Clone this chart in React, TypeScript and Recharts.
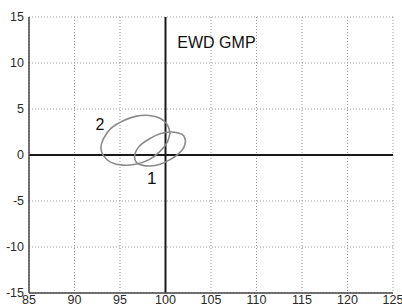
import {
  CartesianGrid,
  ReferenceDot,
  ReferenceLine,
  Scatter,
  ScatterChart,
  XAxis,
  YAxis,
} from "recharts"

// axis ticks
const xTicks = [85, 90, 95, 100, 105, 110, 115, 120, 125]
const yTicks = [-15, -10, -5, 0, 5, 10, 15]

// ellipse 2 (bigger, left)
const ellipse2 = [
  { x: 100.5, y: 2.4 },
  { x: 100.2, y: 3.3 },
  { x: 99.4, y: 4.0 },
  { x: 98.2, y: 4.3 },
  { x: 96.7, y: 4.2 },
  { x: 95.3, y: 3.7 },
  { x: 94.0, y: 2.9 },
  { x: 93.2, y: 1.8 },
  { x: 92.9, y: 0.8 },
  { x: 93.2, y: -0.1 },
  { x: 94.0, y: -0.8 },
  { x: 95.3, y: -1.1 },
  { x: 96.7, y: -1.0 },
  { x: 98.2, y: -0.5 },
  { x: 99.4, y: 0.4 },
  { x: 100.2, y: 1.4 },
  { x: 100.5, y: 2.4 },
]

// ellipse 1 (smaller, around the origin cross)
const ellipse1 = [
  { x: 102.2, y: 1.5 },
  { x: 102.0, y: 2.1 },
  { x: 101.4, y: 2.4 },
  { x: 100.5, y: 2.5 },
  { x: 99.4, y: 2.3 },
  { x: 98.3, y: 1.8 },
  { x: 97.4, y: 1.2 },
  { x: 96.8, y: 0.5 },
  { x: 96.6, y: -0.2 },
  { x: 96.8, y: -0.8 },
  { x: 97.4, y: -1.1 },
  { x: 98.3, y: -1.2 },
  { x: 99.4, y: -1.0 },
  { x: 100.5, y: -0.5 },
  { x: 101.4, y: 0.1 },
  { x: 102.0, y: 0.8 },
  { x: 102.2, y: 1.5 },
]

// text labels placed in data units
const titlePos = { x: 105.6, y: 12.3 }
const label2Pos = { x: 92.8, y: 3.3 }
const label1Pos = { x: 98.5, y: -2.5 }

const font = "Liberation Sans, Arial, sans-serif"
const narrow = "Liberation Sans Narrow, Arial Narrow, Liberation Sans, sans-serif"
const tickStyle = { fontSize: 12.5, fill: "#2a2a2a", fontFamily: narrow }

const noDot = () => <g />

const textLabel = (value: string, size: number) => ({
  value,
  position: "center" as const,
  fill: "#111",
  fontSize: size,
  fontFamily: font,
})

export default function App() {
  return (
    <div style={{ position: "absolute", left: 0, top: 0, background: "#fff" }}>
      <ScatterChart width={402} height={306} margin={{ top: 17, right: 9, bottom: 0, left: 0 }}>
        <CartesianGrid stroke="#999" strokeDasharray="1 2" />
        <XAxis
          type="number"
          dataKey="x"
          domain={[85, 125]}
          ticks={xTicks}
          interval={0}
          height={13}
          tickLine={false}
          tickSize={0}
          tickMargin={2}
          axisLine={{ stroke: "#444", strokeWidth: 1.5 }}
          tick={tickStyle}
        />
        <YAxis
          type="number"
          dataKey="y"
          domain={[-15, 15]}
          ticks={yTicks}
          interval={0}
          width={29}
          tickLine={false}
          tickSize={0}
          tickMargin={5}
          axisLine={{ stroke: "#444", strokeWidth: 1.5 }}
          tick={tickStyle}
        />
        <ReferenceLine x={100} stroke="#1a1a1a" strokeWidth={2} />
        <ReferenceLine y={0} stroke="#1a1a1a" strokeWidth={2} />
        <Scatter
          data={ellipse2}
          line={{ stroke: "#8a8a8a", strokeWidth: 1.6 }}
          lineJointType="natural"
          shape={noDot}
          isAnimationActive={false}
        />
        <Scatter
          data={ellipse1}
          line={{ stroke: "#8a8a8a", strokeWidth: 1.6 }}
          lineJointType="natural"
          shape={noDot}
          isAnimationActive={false}
        />
        <ReferenceDot x={titlePos.x} y={titlePos.y} r={0} label={textLabel("EWD GMP", 16)} />
        <ReferenceDot x={label2Pos.x} y={label2Pos.y} r={0} label={textLabel("2", 16)} />
        <ReferenceDot x={label1Pos.x} y={label1Pos.y} r={0} label={textLabel("1", 17)} />
      </ScatterChart>
    </div>
  )
}
